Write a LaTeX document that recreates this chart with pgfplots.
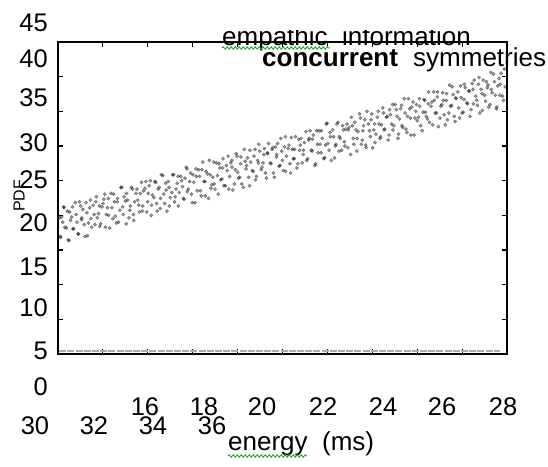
\documentclass[border=0pt]{standalone}
\usepackage{pgfplots}
\usepackage{pgfplotstable}
\pgfplotsset{compat=1.18}
\usepackage{fontspec}
\setmainfont{Liberation Sans}
\usetikzlibrary{decorations.pathmorphing}
\definecolor{squig}{RGB}{40,165,40}

% concurrent symmetries (scatter)
\pgfplotstableread{
x y
13.12 21.1
13.17 18.8
13.24 20.6
13.28 22.3
13.36 19.9
13.42 18.5
13.47 21.8
13.54 21.2
13.58 19.8
13.66 22.9
13.72 20.6
13.77 19.2
13.84 22.5
13.88 21.1
13.96 20.3
14.02 22.9
14.07 19.0
14.14 22.3
14.18 21.0
14.26 22.6
14.32 20.3
14.37 23.6
14.44 21.6
14.48 20.1
14.56 22.4
14.62 23.3
14.67 20.0
14.74 22.3
14.78 21.4
14.86 24.0
14.92 21.0
14.97 23.0
15.04 20.5
15.08 23.4
15.16 22.0
15.22 24.7
15.27 21.5
15.34 23.1
15.38 24.0
15.46 21.1
15.51 22.5
15.58 24.5
15.62 20.8
15.70 24.0
15.76 23.2
15.81 21.8
15.88 25.3
15.92 22.5
16.00 24.6
16.06 21.8
16.11 24.0
16.18 25.5
16.22 22.6
16.30 23.5
16.36 25.3
16.41 21.9
16.48 24.7
16.52 23.4
16.60 26.1
16.66 22.8
16.71 24.4
16.78 25.4
16.82 22.5
16.90 24.1
16.96 26.2
17.01 23.6
17.08 25.2
17.12 22.5
17.20 26.0
17.26 24.8
17.31 23.3
17.38 27.1
17.42 24.2
17.50 25.4
17.56 23.9
17.61 26.2
17.68 22.9
17.72 26.0
17.80 26.8
17.86 24.3
17.91 26.8
17.98 25.4
18.02 23.7
18.10 26.3
18.16 27.9
18.21 24.6
18.28 25.9
18.32 25.1
18.40 27.6
18.46 23.9
18.51 27.0
18.58 25.7
18.62 28.1
18.70 24.9
18.76 26.7
18.81 24.5
18.88 27.6
18.92 27.1
19.00 25.1
19.06 28.7
19.11 26.5
19.18 25.9
19.22 28.3
19.30 24.7
19.36 27.8
19.41 27.3
19.48 25.9
19.52 29.1
19.60 26.7
19.66 28.4
19.71 25.6
19.78 27.9
19.82 29.8
19.90 26.8
19.96 27.6
20.01 29.3
20.08 25.8
20.12 28.7
20.20 27.6
20.26 29.2
20.31 26.4
20.38 29.5
20.42 28.6
20.50 27.2
20.56 30.5
20.61 27.9
20.68 29.5
20.72 26.6
20.80 29.3
20.86 27.5
20.91 30.6
20.98 28.1
21.02 29.2
21.10 27.0
21.16 30.4
21.21 29.7
21.28 27.6
21.32 29.1
21.40 31.3
21.46 28.1
21.51 30.5
21.58 29.1
21.62 30.4
21.70 27.3
21.76 31.4
21.81 28.8
21.88 29.8
21.92 31.4
22.00 28.1
22.06 29.7
22.11 32.3
22.18 29.1
22.22 30.7
22.30 31.5
22.36 28.2
22.41 29.8
22.48 32.4
22.52 30.7
22.60 29.1
22.66 31.5
22.71 29.6
22.78 32.2
22.82 31.5
22.90 28.6
22.96 32.0
23.01 29.8
23.08 31.5
23.12 30.5
23.20 33.4
23.26 29.8
23.31 31.4
23.38 32.7
23.42 29.4
23.50 32.2
23.56 30.7
23.61 33.4
23.68 31.5
23.72 30.0
23.80 33.0
23.86 32.2
23.91 30.7
23.98 34.1
24.02 31.5
24.10 33.0
24.16 30.3
24.21 33.9
24.28 32.2
24.32 31.5
24.40 34.5
24.46 33.1
24.51 31.0
24.58 34.0
24.62 32.0
24.70 35.2
24.76 31.6
24.81 33.1
24.88 34.0
24.92 30.9
25.00 34.8
25.06 32.9
25.11 34.5
25.18 33.0
25.22 34.3
25.30 31.4
25.36 35.1
25.41 33.6
25.48 32.8
25.52 36.0
25.60 34.3
25.66 32.1
25.71 35.0
25.78 33.5
25.82 36.0
25.90 32.9
25.96 34.5
26.01 35.0
26.08 32.1
26.12 35.8
26.20 33.5
26.26 34.3
26.31 36.6
26.38 33.1
26.42 35.3
26.50 36.0
26.56 32.9
26.61 35.3
26.68 33.6
26.72 36.9
26.80 34.7
26.86 36.1
26.91 33.1
26.98 37.0
27.02 34.6
27.10 35.5
27.16 34.4
27.21 37.7
27.28 36.3
27.32 33.8
27.40 35.6
27.46 37.2
27.51 36.8
27.58 34.5
27.62 36.3
27.70 38.1
27.76 35.6
27.81 34.2
27.88 37.6
27.92 36.9
28.00 35.5
28.06 38.7
}\scatterA

\pgfplotstableread{
x y
13.15 18.9
13.20 21.2
13.27 22.4
13.31 20.0
13.39 21.9
13.45 18.4
13.50 20.8
13.57 22.4
13.61 19.8
13.69 21.5
13.75 19.2
13.80 23.0
13.87 20.9
13.91 22.1
13.99 18.9
14.05 21.7
14.10 20.5
14.17 23.2
14.21 20.0
14.29 21.5
14.35 23.0
14.40 21.1
14.47 22.5
14.51 20.4
14.59 22.8
14.65 23.9
14.70 21.5
14.77 23.4
14.81 19.9
14.89 22.3
14.95 23.9
15.00 21.3
15.07 23.0
15.11 20.6
15.19 24.7
15.25 22.4
15.30 23.6
15.37 20.4
15.41 23.2
15.49 22.0
15.54 24.7
15.61 21.5
15.65 23.0
15.73 24.5
15.79 22.6
15.84 24.0
15.91 21.9
15.95 24.3
16.03 25.4
16.09 23.0
16.14 24.9
16.21 21.4
16.25 23.8
16.33 25.4
16.39 22.8
16.44 24.5
16.51 22.2
16.55 26.2
16.63 23.9
16.69 25.2
16.74 21.9
16.81 24.7
16.85 23.5
16.93 26.2
16.99 23.0
17.04 24.5
17.11 26.0
17.15 24.1
17.23 25.5
17.29 23.4
17.34 25.8
17.41 26.9
17.45 24.5
17.53 26.4
17.59 22.9
17.64 25.3
17.71 26.9
17.75 24.3
17.83 26.0
17.89 23.7
17.94 27.7
18.01 25.4
18.05 26.6
18.13 23.4
18.19 26.2
18.24 25.0
18.31 27.7
18.35 24.5
18.43 26.1
18.49 27.5
18.54 25.6
18.61 27.0
18.65 24.9
18.73 27.3
18.79 28.4
18.84 26.0
18.91 27.9
18.95 24.4
19.03 26.8
19.09 28.4
19.14 25.8
19.21 27.5
19.25 25.1
19.33 29.2
19.39 26.9
19.44 28.2
19.51 24.9
19.55 27.7
19.63 26.6
19.69 29.2
19.74 26.0
19.81 27.6
19.85 29.0
19.93 27.1
19.99 28.6
20.04 26.4
20.11 28.8
20.15 29.9
20.23 27.5
20.29 29.4
20.34 25.9
20.41 28.3
20.45 29.9
20.53 27.3
20.59 29.0
20.64 26.7
20.71 30.7
20.75 28.4
20.83 29.7
20.89 26.4
20.94 29.2
21.01 28.1
21.05 30.7
21.13 27.5
21.19 29.1
21.24 30.5
21.31 28.6
21.35 30.0
21.43 27.9
21.49 30.3
21.54 31.4
21.61 29.0
21.65 30.9
21.73 27.5
21.79 29.8
21.84 31.4
21.91 28.8
21.95 30.5
22.03 28.2
22.09 32.2
22.14 29.9
22.21 31.2
22.25 27.9
22.33 30.7
22.39 29.6
22.44 32.2
22.51 29.0
22.55 30.5
22.63 32.0
22.69 30.1
22.74 31.6
22.81 29.4
22.85 31.8
22.93 33.0
22.99 30.5
23.04 32.4
23.11 29.0
23.15 31.3
23.23 32.9
23.29 30.3
23.34 32.0
23.41 29.7
23.45 33.7
23.53 31.4
23.59 32.7
23.64 29.4
23.71 32.2
23.75 31.0
23.83 33.7
23.89 30.5
23.94 32.1
24.01 33.5
24.05 31.6
24.13 33.1
24.19 30.9
24.24 33.3
24.31 34.5
24.35 32.0
24.43 33.9
24.49 30.5
24.54 32.8
24.61 34.4
24.65 31.8
24.73 33.5
24.79 31.2
24.84 35.2
24.91 32.9
24.95 34.2
25.03 30.9
25.09 33.7
25.14 32.6
25.21 35.2
25.25 32.0
25.33 33.6
25.39 35.0
25.44 33.1
25.51 34.6
25.55 32.4
25.63 34.8
25.69 36.0
25.74 33.5
25.81 35.4
25.85 31.9
25.93 34.3
25.99 35.9
26.04 33.3
26.11 35.0
26.15 32.7
26.23 36.8
26.29 34.4
26.34 35.7
26.41 32.5
26.45 35.2
26.53 34.1
26.59 36.7
26.64 33.5
26.71 35.1
26.75 36.5
26.83 34.6
26.89 36.1
26.94 33.9
27.01 36.3
27.05 37.4
27.13 35.0
27.19 36.9
27.24 33.5
27.31 35.8
27.35 37.4
27.43 34.9
27.49 36.5
27.54 34.2
27.61 38.3
27.65 35.9
27.73 37.2
27.79 34.0
27.84 36.7
27.91 35.6
27.95 38.2
28.03 35.0
28.09 36.6
}\scatterB

\begin{document}
\begin{tikzpicture}[x=1pt,y=1pt]
\useasboundingbox (0,0) rectangle (548,466);
\begin{axis}[
  at={(58pt,112pt)}, anchor=south west,
  scale only axis, width=449pt, height=312pt,
  xmin=13.08, xmax=28.15, ymin=5, ymax=41.9,
  xtick={13.08,14.587,16.094,17.601,19.108,20.615,22.122,23.629,25.136,26.643,28.15},
  ytick={5,9.1,13.2,17.3,21.4,25.5,29.6,33.7,37.8,41.9},
  xticklabels={}, yticklabels={},
  tick align=inside, major tick length=5pt,
  axis line style={line width=1.6pt},
  tick style={black, line width=1.1pt},
  clip=false,
]
% empathic information: flat line near the bottom
\addplot[gray!65, line width=1.3pt, dash pattern=on 7pt off 1.2pt]
  coordinates {(13.12,5.35) (27.92,5.35)};
\addplot[only marks, mark=*, mark size=1.7pt, black, opacity=0.4,
  mark options={draw=none}] table {\scatterA};
\addplot[only marks, mark=*, mark size=1.7pt, black, opacity=0.4,
  mark options={draw=none}] table {\scatterB};
\end{axis}

% y tick labels, as they stand in the figure
\begin{scope}[every node/.style={anchor=east, inner sep=0pt, font=\fontsize{25.5}{30}\selectfont}]
\node at (48,443) {45};
\node at (48,407) {40};
\node at (48,368) {35};
\node at (48,323) {30};
\node at (48,286) {25};
\node at (48,243) {20};
\node at (48,199) {15};
\node at (48,158) {10};
\node at (48,115) {5};
\node at (48,79) {0};
\end{scope}

% x tick labels, two rows
\begin{scope}[every node/.style={inner sep=0pt, font=\fontsize{25.5}{30}\selectfont}]
\node at (145,59) {16};
\node at (204,59) {18};
\node at (262,59) {20};
\node at (323,59) {22};
\node at (383,59) {24};
\node at (442,59) {26};
\node at (503,59) {28};
\node at (35,40) {30};
\node at (94,40) {32};
\node at (153,40) {34};
\node at (212,40) {36};
\end{scope}

\node[anchor=base west, inner sep=0pt, font=\fontsize{26}{30}\selectfont] at (228,16) {energy\ \ (ms)};
\draw[squig, line width=0.9pt, decorate, decoration={snake, amplitude=1.2pt, segment length=4pt}] (228,10) -- (307,10);

\node[rotate=90, inner sep=0pt, font=\fontsize{16}{19}\selectfont] at (19,270) {PDF};

% legend texts (top of the first line cut off, as in the figure)
\begin{scope}
\clip (200,300) rectangle (548,435);
\node[anchor=base west, inner sep=0pt, font=\fontsize{26}{30}\selectfont] at (222,420) {empathic\ \ information};
\end{scope}
\draw[squig, line width=0.9pt, decorate, decoration={snake, amplitude=1.2pt, segment length=4pt}] (222,418) -- (330,418);
\node[anchor=base west, inner sep=0pt, font=\bfseries\fontsize{26}{30}\selectfont] at (262,399) {concurrent};
\node[anchor=base west, inner sep=0pt, font=\fontsize{26}{30}\selectfont] at (413,399) {symmetries};
\end{tikzpicture}
\end{document}
